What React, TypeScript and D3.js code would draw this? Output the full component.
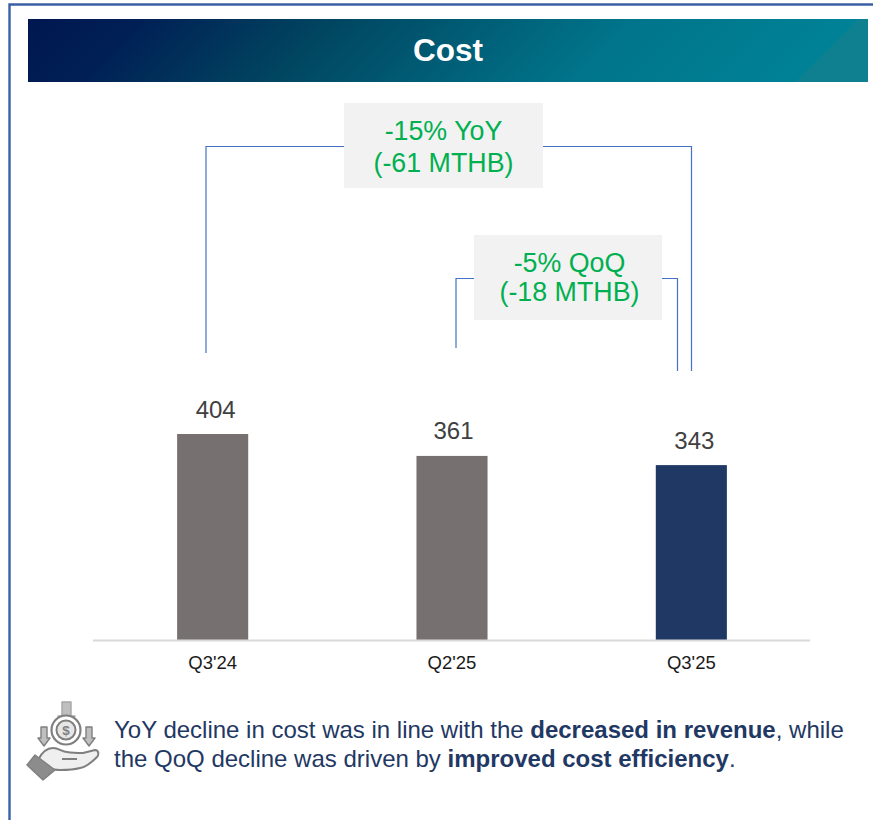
import React from "react";
import * as d3 from "d3";

const categories = ["Q3'24", "Q2'25", "Q3'25"];
const costValues = [404, 361, 343];
const barColors = ["#767170", "#767170", "#1F3864"];
const titleText = "Cost";
const yoyLines = ["-15% YoY", "(-61 MTHB)"];
const qoqLines = ["-5% QoQ", "(-18 MTHB)"];
const noteLines = [
  [["YoY decline in cost was in line with the ", false], ["decreased in revenue", true], [", while", false]],
  [["the QoQ decline was driven by ", false], ["improved cost efficiency", true], [".", false]],
] as [string, boolean][][];

const FONT = "'Liberation Sans', Arial, sans-serif";
const INK = "#1F3864";
const LINK = "#4472C4";

export default function App() {
  const x = d3.scaleBand<string>().domain(categories).range([93, 811]).paddingInner(0.703).paddingOuter(0.3515);
  const y = d3.scaleLinear().domain([0, 404]).range([640, 434]);
  const cx = (c: string) => (x(c) as number) + x.bandwidth() / 2;

  return (
    <svg width={873} height={820} style={{ position: "absolute", left: 0, top: 0, background: "#fff" }} fontFamily={FONT}>
      <defs>
        <linearGradient id="hdr" gradientUnits="userSpaceOnUse" x1={28} y1={19} x2={479.5} y2={470.5}>
          <stop offset="0" stopColor="#00174F" />
          <stop offset="0.12" stopColor="#001F55" />
          <stop offset="0.335" stopColor="#014560" />
          <stop offset="0.667" stopColor="#00748A" />
          <stop offset="0.92" stopColor="#008296" />
          <stop offset="0.92" stopColor="#0E808F" />
          <stop offset="1" stopColor="#0E808F" />
        </linearGradient>
      </defs>

      {/* slide frame */}
      <path d="M873 4.5H9.5V820" fill="none" stroke="#3B5FA5" strokeWidth={2.4} />

      {/* header */}
      <rect x={28} y={19} width={840} height={63} fill="url(#hdr)" />
      <text x={448} y={61} textAnchor="middle" fontSize={31.5} fontWeight={700} fill="#fff">{titleText}</text>

      {/* comparison connectors */}
      <path d="M206 353V146.5H691.5V371" fill="none" stroke={LINK} strokeWidth={1.2} />
      <path d="M456 348V278.5H677.5V371" fill="none" stroke={LINK} strokeWidth={1.2} />
      <rect x={344} y={103} width={199} height={85} fill="#F2F2F2" />
      <rect x={474} y={235} width={188} height={85} fill="#F2F2F2" />
      {yoyLines.map((t, i) => (
        <text key={t} x={443.5} y={140 + i * 32} textAnchor="middle" fontSize={26.8} fill="#00B050">{t}</text>
      ))}
      {qoqLines.map((t, i) => (
        <text key={t} x={569.5} y={272 + i * 29} textAnchor="middle" fontSize={26.8} fill="#00B050">{t}</text>
      ))}

      {/* bars */}
      {categories.map((cat, i) => (
        <g key={cat}>
          <rect x={x(cat)} y={y(costValues[i])} width={x.bandwidth()} height={640 - y(costValues[i])} fill={barColors[i]} />
          <text x={cx(cat) + (i === 0 ? 3 : i === 1 ? 1.5 : 3)} y={y(costValues[i]) - 16.5} textAnchor="middle" fontSize={24} fill="#404040">{costValues[i]}</text>
          <text x={cx(cat)} y={669} textAnchor="middle" fontSize={18.5} fill="#1a1a1a">{cat}</text>
        </g>
      ))}
      <line x1={93} x2={810} y1={640.5} y2={640.5} stroke="#D9D9D9" strokeWidth={2} />

      {/* icon */}
      <g fill="#A6A6A6" stroke="#7F7F7F" strokeWidth={1.4} strokeLinejoin="round">
        <path d="M62 702H71V716H75L66.5 727L58 716H62Z" fill="#BFBFBF" stroke="#A6A6A6" />
        <path d="M41 727H47V738H50L44 746L38 738H41Z" fill="#BFBFBF" />
        <path d="M86 727H92V738H95L89 746L83 738H86Z" fill="#BFBFBF" />
        <circle cx={66} cy={730} r={14.5} fill="#fff" strokeWidth={2.2} />
        <circle cx={66} cy={730} r={9.5} fill="#E6E6E6" strokeWidth={2} />
        <path d="M38 760C42 752 47 748 53 748C59 748 62 752 67 752C73 753 78 753 83 753L95 750C99 750 99 755 97 757C91 763 86 767 80 768C73 770 66 770 60 770C55 770 51 769 47 768Z" fill="#EFEFEF" strokeWidth={2} />
        <path d="M62 759H77" fill="none" strokeWidth={2} />
        <path d="M27 765L35 755L55 770L43 780Z" fill="#8C8C8C" />
      </g>
      <text x={66} y={735} textAnchor="middle" fontSize={13.5} fontWeight={700} fill="#7F7F7F">$</text>

      {/* note */}
      {noteLines.map((line, i) => (
        <text key={i} x={114} y={738 + i * 29} fontSize={24} fill={INK}>
          {line.map(([t, bold], j) => (
            <tspan key={j} fontWeight={bold ? 700 : 400}>{t}</tspan>
          ))}
        </text>
      ))}
    </svg>
  );
}
